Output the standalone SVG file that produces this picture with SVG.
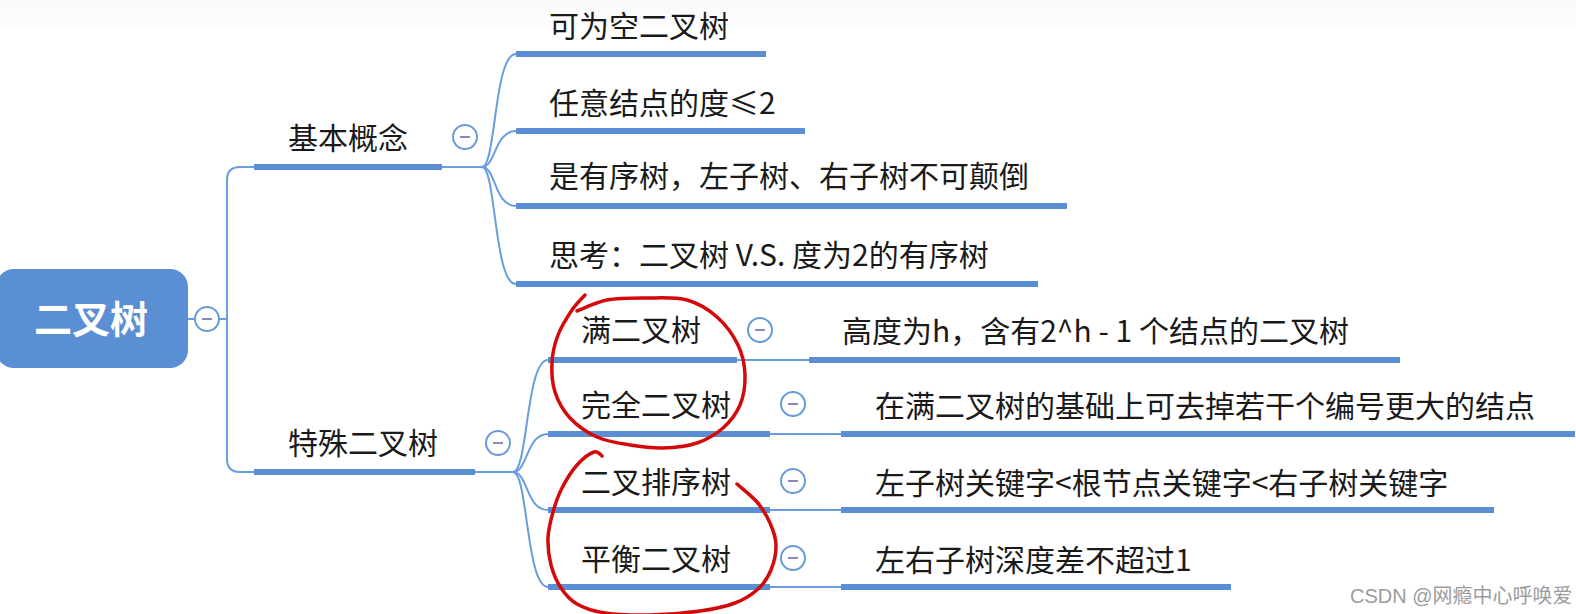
<svg xmlns="http://www.w3.org/2000/svg" width="1576" height="614" viewBox="0 0 1576 614">
<style>
text{font-family:"Noto Sans CJK SC","Noto Sans",sans-serif;fill:#1a1a1a;font-size:30px}
.root{fill:#fff;font-size:38px;font-weight:bold}
.bar{stroke:#5b8fd4;stroke-width:6;fill:none}
.con{stroke:#6a9de0;stroke-width:2;fill:none}
.tog circle{fill:#fff;stroke:#6a9ad8;stroke-width:2}
.tog line{stroke:#8a8ab8;stroke-width:2}
.red{stroke:#d30a0a;stroke-width:3.5;fill:none;stroke-linecap:round;stroke-linejoin:round}
.wm{font-family:"Liberation Sans","Noto Sans CJK SC",sans-serif;font-size:20px;fill:#9c9c9c}
</style>
<defs>
<g id="tg" class="tog"><circle cx="0" cy="0" r="12"/><line x1="-5" y1="0" x2="5" y2="0"/></g>
</defs>
<rect x="0" y="0" width="1576" height="614" fill="#fff"/>
<rect x="0" y="0" width="1576" height="13" fill="#fafafa"/>
<rect x="0" y="13" width="1576" height="13" fill="#fcfcfc"/>

<g id="connectors">
<path class="con" d="M188,319 L227,319"/>
<path class="con" d="M254,167 L240,167 Q227,167 227,180 L227,459 Q227,472 240,472 L254,472"/>
<path class="con" d="M442,167 L482,167"/>
<path class="con" d="M482,167 C496,167 494,54 516,54"/>
<path class="con" d="M482,167 C496,167 494,131 516,131"/>
<path class="con" d="M482,167 C496,167 494,206 516,206"/>
<path class="con" d="M482,167 C496,167 494,284 516,284"/>
<path class="con" d="M475,472 L513,472"/>
<path class="con" d="M513,472 C528,472 526,360 548,360"/>
<path class="con" d="M513,472 C528,472 526,434 548,434"/>
<path class="con" d="M513,472 C528,472 526,510 548,510"/>
<path class="con" d="M513,472 C528,472 526,587 548,587"/>
<path class="con" d="M737,360 L809,360"/>
<path class="con" d="M770,434 L841,434"/>
<path class="con" d="M770,510 L841,510"/>
<path class="con" d="M770,587 L841,587"/>
</g>

<g id="root">
<rect x="-4" y="269" width="192" height="99" rx="18" fill="#5b8fd4"/>
<text class="root" x="91" y="333" text-anchor="middle">二叉树</text>
<use href="#tg" x="207" y="319"/>
</g>

<g id="n-basic">
<text x="288" y="149">基本概念</text>
<line class="bar" x1="254" y1="167" x2="442" y2="167"/>
<use href="#tg" x="465" y="137"/>
</g>
<g id="n-b1"><text x="549" y="37">可为空二叉树</text><line class="bar" x1="516" y1="54" x2="766" y2="54"/></g>
<g id="n-b2"><text x="549" y="114">任意结点的度≤2</text><line class="bar" x1="516" y1="131" x2="805" y2="131"/></g>
<g id="n-b3"><text x="549" y="187">是有序树，左子树、右子树不可颠倒</text><line class="bar" x1="516" y1="206" x2="1067" y2="206"/></g>
<g id="n-b4"><text x="549" y="266">思考：二叉树 V.S. 度为2的有序树</text><line class="bar" x1="516" y1="284" x2="1038" y2="284"/></g>

<g id="n-special">
<text x="288" y="454">特殊二叉树</text>
<line class="bar" x1="254" y1="472" x2="475" y2="472"/>
<use href="#tg" x="498" y="443"/>
</g>
<g id="n-full"><text x="581" y="341">满二叉树</text><line class="bar" x1="548" y1="360" x2="737" y2="360"/><use href="#tg" x="760" y="330"/></g>
<g id="n-complete"><text x="581" y="416">完全二叉树</text><line class="bar" x1="548" y1="434" x2="770" y2="434"/><use href="#tg" x="793" y="404"/></g>
<g id="n-bst"><text x="581" y="493">二叉排序树</text><line class="bar" x1="548" y1="510" x2="770" y2="510"/><use href="#tg" x="793" y="481"/></g>
<g id="n-avl"><text x="581" y="570">平衡二叉树</text><line class="bar" x1="548" y1="587" x2="770" y2="587"/><use href="#tg" x="793" y="558"/></g>

<g id="n-full-d"><text x="842" y="342">高度为h，含有2^h - 1 个结点的二叉树</text><line class="bar" x1="809" y1="360" x2="1400" y2="360"/></g>
<g id="n-complete-d"><text x="875" y="417">在满二叉树的基础上可去掉若干个编号更大的结点</text><line class="bar" x1="841" y1="434" x2="1575" y2="434"/></g>
<g id="n-bst-d"><text x="875" y="494">左子树关键字&lt;根节点关键字&lt;右子树关键字</text><line class="bar" x1="841" y1="510" x2="1494" y2="510"/></g>
<g id="n-avl-d"><text x="875" y="571">左右子树深度差不超过1</text><line class="bar" x1="841" y1="587" x2="1231" y2="587"/></g>

<g id="annotations">
<path class="red" d="M577,311 C582,309.2 595.3,302.2 607,300 C618.7,297.8 633.7,298 647,298 C660.3,298 675.3,296.8 687,300 C698.7,303.2 708.5,309.5 717,317 C725.5,324.5 733.3,335.3 738,345 C742.7,354.7 744.7,365 745,375 C745.3,385 743.7,396.2 740,405 C736.3,413.8 730.2,421.7 723,428 C715.8,434.3 707,439.7 697,443 C687,446.3 674.2,447.7 663,448 C651.8,448.3 641,446.8 630,445 C619,443.2 607,441.5 597,437 C587,432.5 577,425.5 570,418 C563,410.5 558,401.3 555,392 C552,382.7 551.5,371.5 552,362 C552.5,352.5 554.7,343.7 558,335 C561.3,326.3 567.5,316.7 572,310 C576.5,303.3 582.8,297.5 585,295"/>
<path class="red" d="M602,456 C600.8,455.3 598.2,450.5 594,452 C589.8,453.5 582.3,459 577,465 C571.7,471 566,480.2 562,488 C558,495.8 555.3,503.7 553,512 C550.7,520.3 548.3,529.2 548,538 C547.7,546.8 548.8,556.7 551,565 C553.2,573.3 556.7,581.5 561,588 C565.3,594.5 569.7,599.8 577,604 C584.3,608.2 592.8,611.2 605,613 C617.2,614.8 634.2,615.3 650,615 C665.8,614.7 685.8,613 700,611 C714.2,609 725.3,606.7 735,603 C744.7,599.3 752,594.5 758,589 C764,583.5 768,577.3 771,570 C774,562.7 776.2,552.8 776,545 C775.8,537.2 773.2,530.2 770,523 C766.8,515.8 762.5,508.5 757,502 C751.5,495.5 740.3,487 737,484"/>
</g>

<text class="wm" x="1350" y="603">CSDN @网瘾中心呼唤爱</text>
</svg>
